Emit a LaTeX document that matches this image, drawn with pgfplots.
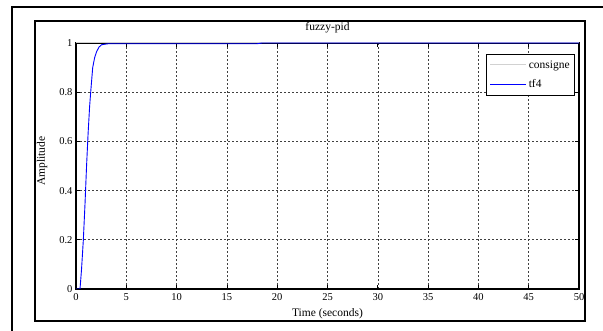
\documentclass[border=0pt]{standalone}
\usepackage{fontspec}
\setmainfont{Liberation Serif}
\usepackage{pgfplots}
\pgfplotsset{compat=1.18}
\begin{document}
\begin{tikzpicture}[x=1pt,y=1pt]
\useasboundingbox (0,0) rectangle (603,331);
\fill[white] (0,0) rectangle (603,331);
\draw[line width=2pt] (12,-10) -- (12,324.3) -- (620,324.3);
\draw[line width=2pt] (34.5,10) rectangle (584.5,310.3);
\begin{axis}[
  at={(76pt,42pt)}, anchor=south west,
  scale only axis, width=503pt, height=246pt,
  xmin=0, xmax=50, ymin=0, ymax=1,
  xtick={0,5,...,50}, ytick={0,0.2,0.4,0.6,0.8,1},
  grid=major,
  major grid style={dash pattern=on 2pt off 2pt, black!75, line width=0.6pt},
  axis line style={line width=1.4pt},
  every tick/.style={black, line width=0.8pt},
  major tick length=4pt,
  tick label style={font=\fontsize{10.5}{12}\selectfont},
  /pgf/number format/assume math mode=true,
  xticklabel style={anchor=base, yshift=-12pt},
  title={fuzzy-pid},
  title style={at={(axis description cs:0.5,1)}, anchor=base, yshift=6pt, font=\fontsize{11.5}{13}\selectfont},
  xlabel={Time (seconds)},
  xlabel style={at={(axis description cs:0.5,0)}, anchor=base, yshift=-28pt, font=\fontsize{11.5}{13}\selectfont},
  ylabel={Amplitude},
  ylabel style={at={(axis description cs:-0.0676,0.52)}, anchor=center, font=\fontsize{11.5}{13}\selectfont},
  legend style={at={(axis description cs:0.992,0.955)}, anchor=north east,
    draw=black, line width=0.7pt, font=\fontsize{11.5}{13}\selectfont,
    inner xsep=3pt, inner ysep=4pt, row sep=6pt, fill=white},
  legend cell align=left,
  legend image code/.code={\draw[#1] (0pt,0pt) -- (36pt,0pt);},
]
\addplot[draw=black!18, line width=1pt] coordinates {(0,1) (50,1)};
\addlegendentry{consigne}
\addplot[draw=blue, line width=0.9pt] coordinates {
(0,0) (0.4,0) (0.55,0.08) (0.73,0.2) (0.9,0.35) (1.05,0.5) (1.2,0.63)
(1.35,0.74) (1.46,0.8) (1.66,0.9) (1.85,0.94) (2.06,0.966) (2.3,0.984)
(2.55,0.993) (3.2,0.997) (18,0.997) (18.5,1) (50,1)};
\addlegendentry{tf4}
\end{axis}
\end{tikzpicture}
\end{document}
